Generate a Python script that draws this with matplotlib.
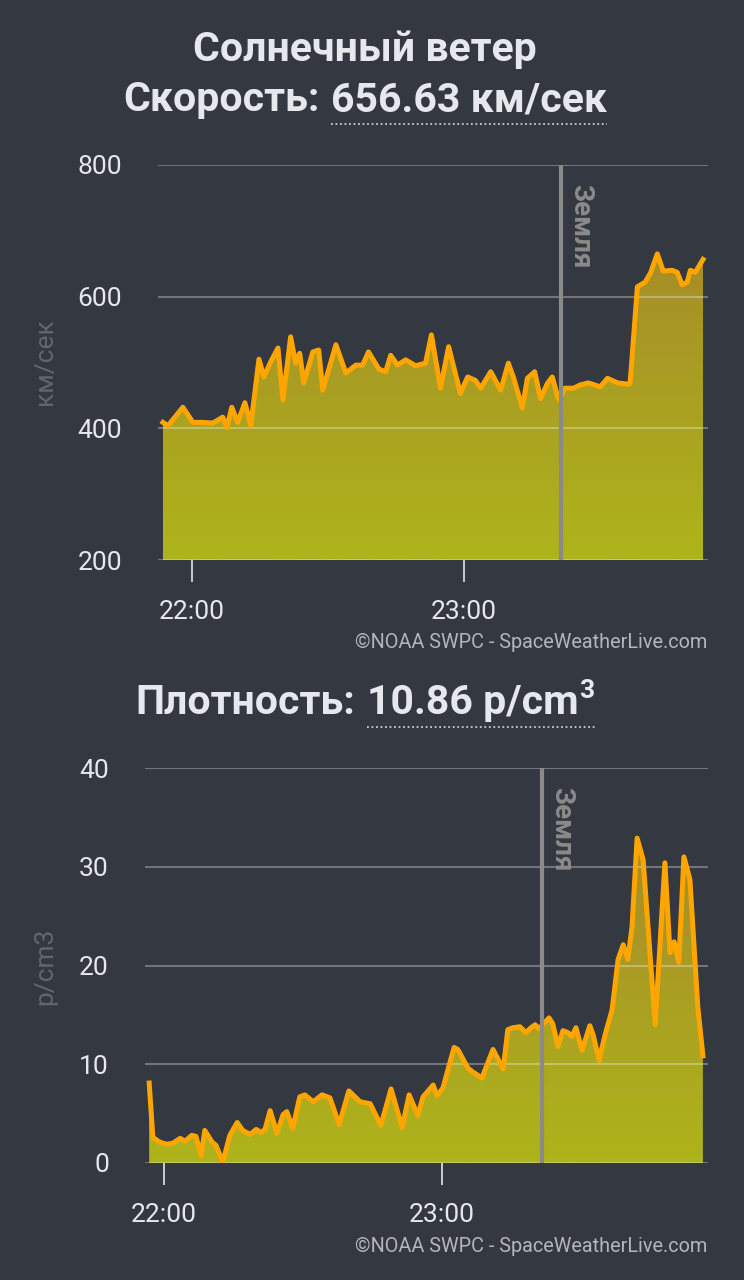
import matplotlib.pyplot as plt
import numpy as np
from matplotlib.lines import Line2D

plt.rcParams['font.family'] = ['Roboto', 'DejaVu Sans']

BG = '#343840'
TXT = '#e6e8ee'

# скорость: минуты после 21:00, км/сек
speed_t = [53.6, 54.7, 58.0, 60.2, 62.4, 64.6, 66.8, 67.7, 68.8, 70.1, 71.7, 73.0,
           74.8, 75.9, 77.4, 79.0, 80.1, 81.8, 82.9, 83.8, 84.7, 86.7, 88.0, 88.9,
           91.8, 94.0, 96.2, 97.7, 99.0, 101.3, 102.8, 103.9, 105.4, 107.2, 109.4, 111.6,
           112.9, 114.9, 116.7, 119.3, 120.9, 122.6, 123.8, 126.0, 128.2, 129.9, 131.0, 133.0,
           134.1, 135.7, 137.0, 138.5, 139.6, 141.0, 142.4, 144.3, 145.8, 147.6, 150.2, 151.8,
           154.0, 156.4, 156.8, 158.4, 160.1, 161.3, 162.8, 164.1, 166.1, 167.2, 168.3, 169.4,
           170.1, 171.2, 172.9]
speed_v = [409, 404, 432, 409, 409, 408, 417, 401, 432, 409, 439, 404,
           505, 478, 501, 522, 443, 539, 499, 514, 469, 516, 519, 458,
           527, 484, 496, 496, 516, 490, 486, 511, 496, 504, 495, 499,
           542, 461, 524, 453, 478, 473, 461, 486, 458, 499, 478, 431,
           476, 486, 445, 468, 478, 443, 461, 461, 466, 469, 463, 476,
           469, 467, 469, 615, 622, 636, 665, 639, 640, 637, 618, 622,
           640, 637, 656.63]

# плотность: минуты после 21:00, p/cm3
dens_t = [56.8, 57.6, 59.1, 60.6, 61.9, 63.5, 64.5, 66.0, 66.9, 68.0, 68.8, 70.4,
          71.2, 72.7, 74.2, 75.8, 77.0, 78.6, 79.9, 80.9, 81.8, 82.9, 84.4, 85.7,
          86.5, 87.8, 89.3, 90.4, 92.2, 94.1, 95.8, 97.8, 99.9, 102.3, 104.5, 106.8,
          109.0, 111.4, 112.9, 114.8, 115.9, 118.1, 118.9, 120.2, 122.6, 123.4, 125.6, 126.7,
          128.6, 131.0, 133.2, 134.2, 135.3, 136.8, 138.1, 139.2, 140.1, 140.9, 143.1, 143.9,
          145.0, 146.1, 147.2, 148.0, 148.9, 150.2, 151.9, 152.6, 153.9, 155.2, 156.7, 158.0,
          159.1, 160.1, 161.0, 162.1, 163.4, 166.0, 168.1, 169.2, 170.1, 171.1, 172.2, 173.5,
          175.2, 176.3]
dens_v = [8.1, 2.6, 2.1, 1.9, 2.0, 2.5, 2.2, 2.8, 2.7, 0.7, 3.3, 2.1,
          1.8, 0.1, 2.8, 4.1, 3.3, 2.9, 3.4, 3.1, 3.4, 5.3, 3.0, 4.9,
          5.2, 3.5, 6.7, 6.9, 6.2, 6.9, 6.6, 3.9, 7.3, 6.2, 6.0, 3.8,
          7.5, 3.6, 6.9, 4.8, 6.7, 7.9, 6.8, 7.6, 11.7, 11.5, 9.6, 9.2,
          8.6, 11.5, 9.5, 13.5, 13.7, 13.8, 13.2, 13.7, 14.0, 13.6, 14.7, 14.1,
          11.8, 13.4, 13.2, 12.8, 13.7, 11.4, 13.9, 13.0, 10.4, 13.0, 15.5, 20.6,
          22.1, 20.6, 23.9, 32.9, 30.7, 14.0, 30.4, 21.3, 22.4, 20.3, 31.0, 28.7,
          15.8, 10.86]

earth_t = 141.6
tick_t = [60, 120]
tick_lbl = ['22:00', '23:00']

W, H = 744, 1280
fig = plt.figure(figsize=(W / 100, H / 100), dpi=100, facecolor=BG)


def panel(rect, t, v, xlim, ylim, yticks):
    ax = fig.add_axes(rect, facecolor=BG)
    fill = ax.fill_between(t, v, ylim[0], color='none', lw=0)
    g = np.linspace(0, 1, 256)[:, None, None]
    c0 = np.array([174, 180, 27]) / 255
    c1 = np.array([164, 130, 44]) / 255
    img = c0 + (c1 - c0) * g
    im = ax.imshow(img, extent=[xlim[0], xlim[1], ylim[0], ylim[1]],
                   origin='lower', aspect='auto', zorder=1)
    im.set_clip_path(fill.get_paths()[0], ax.transData)
    ax.plot(t, v, color='#ffa500', lw=3.6, zorder=4, solid_joinstyle='round')
    ax.axvline(earth_t, color='#8a8a8a', lw=3, zorder=5)
    ax.annotate('Земля', (earth_t, ylim[1]), xytext=(4.5, -14), textcoords='offset points',
                rotation=-90, ha='left', va='top', color='#8a8a8a',
                fontsize=20, fontweight='bold')
    ax.set_xlim(xlim)
    ax.set_ylim(ylim)
    ax.set_yticks(yticks, [str(y) for y in yticks])
    ax.set_xticks(tick_t, tick_lbl)
    ax.grid(axis='y', color='white', alpha=0.3, lw=1.5)
    ax.set_axisbelow(False)
    for s in ax.spines.values():
        s.set_visible(False)
    ax.tick_params(axis='x', length=16, width=1.3, color='#d8d8d8', pad=13,
                   labelsize=19, labelcolor=TXT)
    ax.tick_params(axis='y', length=0, pad=26, labelsize=19, labelcolor=TXT)
    return ax


ax1 = panel([158 / W, 1 - 560 / H, 550 / W, 395 / H], speed_t, speed_v,
            (52.5, 174.0), (200, 800), [200, 400, 600, 800])
ax2 = panel([145 / W, 1 - 1163 / H, 563 / W, 395 / H], dens_t, dens_v,
            (55.9, 177.4), (0, 40), [0, 10, 20, 30, 40])

fig.text(45 / W, 1 - 362 / H, 'км/сек', rotation=90, color='#62666d', fontsize=19,
         ha='center', va='center')
fig.text(45 / W, 1 - 966 / H, 'p/cm3', rotation=90, color='#62666d', fontsize=19,
         ha='center', va='center')

credit = '©NOAA SWPC - SpaceWeatherLive.com'
fig.text(707 / W, 1 - 642 / H, credit, color='#b4b6ba', fontsize=14.3, ha='right', va='center')
fig.text(707 / W, 1 - 1246 / H, credit, color='#b4b6ba', fontsize=14.3, ha='right', va='center')

fig.text(365 / W, 1 - 50 / H, 'Солнечный ветер', color=TXT, fontsize=29.5, fontweight='bold',
         ha='center', va='center')

renderer = fig.canvas.get_renderer()


def value_title(yc, prefix, value, sup=None, gap=12):
    kw = dict(color=TXT, fontsize=29.5, fontweight='bold', va='center')
    t1 = fig.text(0, 1 - yc / H, prefix, ha='left', **kw)
    t2 = fig.text(0, 1 - yc / H, value, ha='left', **kw)
    w1 = t1.get_window_extent(renderer).width
    w2 = t2.get_window_extent(renderer).width
    w3 = 0
    if sup:
        t3 = fig.text(0, 1 - (yc - 12) / H, sup, ha='left', color=TXT, fontsize=19,
                      fontweight='bold', va='center')
        w3 = t3.get_window_extent(renderer).width + 1
    x0 = 365 - (w1 + gap + w2 + w3) / 2
    t1.set_x(x0 / W)
    t2.set_x((x0 + w1 + gap) / W)
    if sup:
        t3.set_x((x0 + w1 + gap + w2 + 1) / W)
    ly = 1 - (yc + 24) / H
    fig.add_artist(Line2D([(x0 + w1 + gap) / W, (x0 + w1 + gap + w2 + w3) / W], [ly, ly],
                          color='#c8ccd4', lw=1.3, ls=(0, (1, 1.5))))


value_title(100, 'Скорость:', '656.63 км/сек')
value_title(703, 'Плотность:', '10.86 p/cm', sup='3')

fig.savefig('out.png', dpi=100, facecolor=BG)
